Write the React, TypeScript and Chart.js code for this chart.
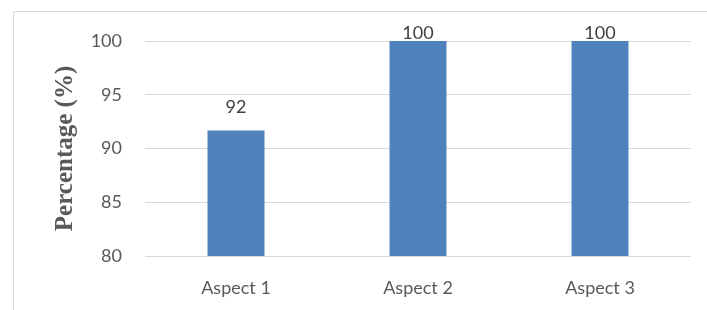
import React, { useEffect, useRef } from "react";
import { Chart, registerables } from "chart.js";

Chart.register(...registerables);

const categories = ["Aspect 1", "Aspect 2", "Aspect 3"];
const values = [91.67, 100, 100];
const labels = ["92", "100", "100"];
const yTicks = [80, 85, 90, 95, 100];

const frame = {
  id: "frame",
  beforeDraw(chart: any) {
    const ctx = chart.ctx;
    ctx.save();
    ctx.strokeStyle = "#d9d9d9";
    ctx.lineWidth = 1;
    ctx.beginPath();
    ctx.moveTo(13.5, chart.height + 5);
    ctx.lineTo(13.5, 11.5);
    ctx.lineTo(chart.width + 5, 11.5);
    ctx.stroke();
    ctx.restore();
  },
};

const valueLabels = {
  id: "valueLabels",
  afterDatasetsDraw(chart: any) {
    const ctx = chart.ctx;
    const meta = chart.getDatasetMeta(0);
    ctx.save();
    ctx.font = "18px Lato";
    ctx.fillStyle = "#404040";
    ctx.textAlign = "center";
    ctx.textBaseline = "alphabetic";
    meta.data.forEach((bar: any, i: number) => {
      const y = Math.max(bar.y - 18, chart.chartArea.top - 2);
      ctx.fillText(labels[i], bar.x, y);
    });
    ctx.restore();
  },
};

export default function App() {
  const ref = useRef<HTMLCanvasElement>(null);
  useEffect(() => {
    const chart = new Chart(ref.current!, {
      type: "bar",
      data: {
        labels: categories,
        datasets: [
          {
            data: values,
            backgroundColor: "#4f81bd",
            barPercentage: 0.313,
            categoryPercentage: 1,
          },
        ],
      },
      options: {
        animation: false,
        responsive: false,
        layout: { padding: { top: 41, right: 16, left: 0, bottom: 0 } },
        plugins: { legend: { display: false }, tooltip: { enabled: false } },
        scales: {
          x: {
            grid: { display: false, drawTicks: false },
            border: { display: false },
            ticks: { font: { family: "Lato", size: 18 }, color: "#595959", padding: 21 },
            afterFit: (s: any) => { s.height = 54; },
          },
          y: {
            min: 80,
            max: 100,
            afterBuildTicks: (s: any) => { s.ticks = yTicks.map((v) => ({ value: v })); },
            grid: { color: "#d9d9d9", lineWidth: 1, drawTicks: false },
            border: { display: false },
            ticks: { font: { family: "Lato", size: 18 }, color: "#595959", padding: 23 },
            title: {
              display: true,
              text: "Percentage (%)",
              font: { family: "Liberation Serif", size: 25, weight: "bold" },
              color: "#595959",
              padding: { top: 51, bottom: 0 },
            },
            afterFit: (s: any) => { s.width = 145; },
          },
        },
      },
      plugins: [frame, valueLabels],
    });
    return () => chart.destroy();
  }, []);
  return (
    <div style={{ position: "fixed", left: 0, top: 0, width: 707, height: 310, background: "#fff" }}>
      <canvas ref={ref} width={707} height={310} />
    </div>
  );
}
